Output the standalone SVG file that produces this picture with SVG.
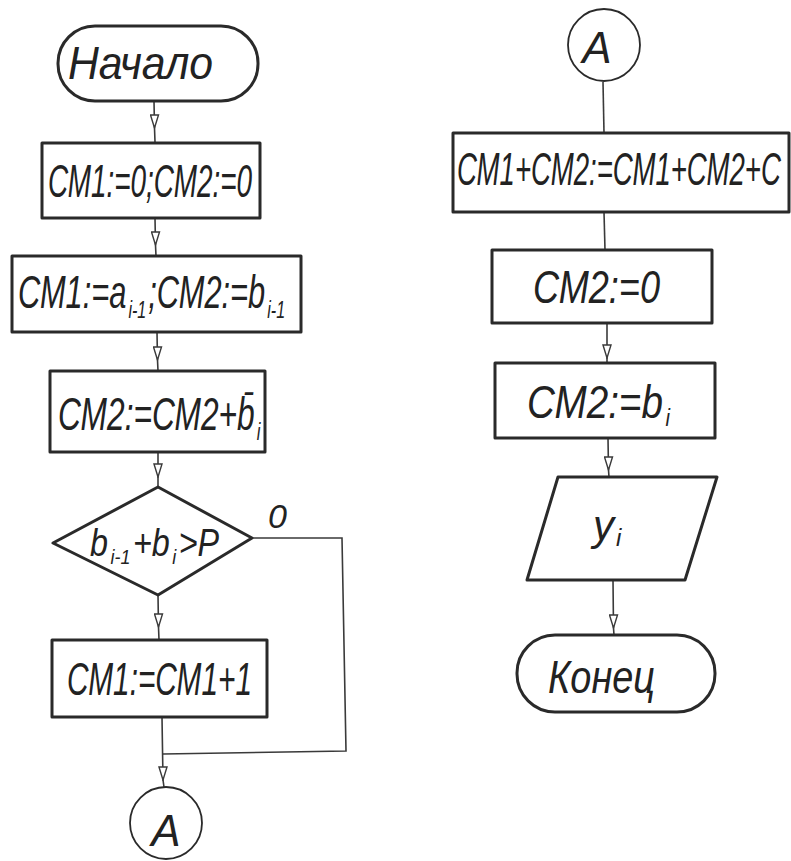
<svg xmlns="http://www.w3.org/2000/svg" width="791" height="861" viewBox="0 0 791 861">
<style>
.shape{fill:none;stroke:#2a2a2a;stroke-width:3;stroke-linejoin:round}
.thin{fill:none;stroke:#2a2a2a;stroke-width:1.8}
.conn{fill:none;stroke:#3a3a3a;stroke-width:1.6}
.t{font-family:"Liberation Sans","DejaVu Sans",sans-serif;font-style:italic;fill:#222;font-size:46px}
.s{font-size:24px}
</style>
<defs>
<marker id="dn" viewBox="0 0 10 16" refX="5" refY="15" markerWidth="10" markerHeight="16" markerUnits="userSpaceOnUse" orient="0">
<path d="M1,2 L5,15 L9,2 Z" fill="#fff" stroke="#3a3a3a" stroke-width="1.4"/>
</marker>
</defs>
<rect width="791" height="861" fill="#fff"/>
<g id="connectors">
<polyline class="conn" points="154,101 154.5,128 155,142" marker-mid="url(#dn)"/>
<polyline class="conn" points="155,218 155.5,245 156,256" marker-mid="url(#dn)"/>
<polyline class="conn" points="157,332 157.5,360 158,371" marker-mid="url(#dn)"/>
<polyline class="conn" points="158,452 158,477 158,487" marker-mid="url(#dn)"/>
<polyline class="conn" points="158,595 158.5,627 159,640" marker-mid="url(#dn)"/>
<polyline class="conn" points="252,538 342,538 346,751 163,754"/>
<polyline class="conn" points="162,717 163,780 164,787" marker-mid="url(#dn)"/>
<line class="conn" x1="603" y1="82" x2="604" y2="133"/>
<line class="conn" x1="604" y1="212" x2="605" y2="250"/>
<polyline class="conn" points="607,323 607,358 607,363" marker-mid="url(#dn)"/>
<polyline class="conn" points="608,438 608.5,470 609,477" marker-mid="url(#dn)"/>
<polyline class="conn" points="613,580 613.5,628 614,635" marker-mid="url(#dn)"/>
</g>
<g id="start">
<rect class="shape" x="58" y="26" width="200" height="75" rx="37" ry="37"/>
<text class="t" x="68" y="79" textLength="145" lengthAdjust="spacingAndGlyphs">Начало</text>
</g>
<g id="init">
<rect class="shape" x="42" y="143" width="218" height="75"/>
<text class="t" x="48" y="197" textLength="204" lengthAdjust="spacingAndGlyphs">СМ1:=0;СМ2:=0</text>
</g>
<g id="load">
<rect class="shape" x="12" y="256" width="289" height="76"/>
<text class="t" transform="translate(18 308) scale(0.67 1)" x="0" y="0">СМ1:=a<tspan class="s" dx="3" dy="10">i-1</tspan><tspan dx="3" dy="-10">;СМ2:=b</tspan><tspan class="s" dx="3" dy="10">i-1</tspan></text>
</g>
<g id="add">
<rect class="shape" x="50" y="371" width="215" height="81"/>
<text class="t" transform="translate(58 430) scale(0.69 1)" x="0" y="0">СМ2:=СМ2+b̄<tspan class="s" dx="3" dy="10">i</tspan></text>
</g>
<g id="decision">
<polygon class="shape" points="158,487 252,538 158,595 53,543"/>
<text class="t" transform="translate(90 556) scale(0.85 1)" x="0" y="0" style="font-size:38px">b<tspan class="s" style="font-size:21px" dx="3" dy="8">i-1</tspan><tspan dx="3" dy="-8">+b</tspan><tspan class="s" style="font-size:21px" dx="3" dy="8">i</tspan><tspan dx="3" dy="-8">&gt;P</tspan></text>
<text class="t" x="268" y="528" style="font-size:34px">0</text>
</g>
<g id="inc">
<rect class="shape" x="52" y="640" width="215" height="77"/>
<text class="t" x="67" y="695" textLength="185" lengthAdjust="spacingAndGlyphs">СМ1:=СМ1+1</text>
</g>
<g id="connA1">
<circle class="thin" cx="166" cy="823" r="36"/>
<text class="t" x="166" y="846" text-anchor="middle" style="font-size:44px">A</text>
</g>
<g id="connA2">
<circle class="thin" cx="604" cy="45" r="36"/>
<text class="t" x="597" y="63" text-anchor="middle" style="font-size:44px">A</text>
</g>
<g id="sum">
<rect class="shape" x="453" y="133" width="336" height="79"/>
<text class="t" transform="translate(457 185) scale(0.6 1)" x="0" y="0">СМ1+СМ2:=СМ1+СМ2+С</text>
</g>
<g id="reset">
<rect class="shape" x="492" y="250" width="220" height="73"/>
<text class="t" x="533" y="303" textLength="127" lengthAdjust="spacingAndGlyphs">СМ2:=0</text>
</g>
<g id="loadb">
<rect class="shape" x="495" y="363" width="220" height="75"/>
<text class="t" transform="translate(527 418) scale(0.84 1)" x="0" y="0">СМ2:=b<tspan class="s" dx="3" dy="8">i</tspan></text>
</g>
<g id="output">
<polygon class="shape" points="558,477 717,477 685,580 527,580"/>
<text class="t" x="593" y="540" style="font-size:42px">y<tspan class="s" dx="2" dy="6">i</tspan></text>
</g>
<g id="end">
<rect class="shape" x="517" y="635" width="198" height="77" rx="38" ry="38"/>
<text class="t" x="548" y="693" textLength="107" lengthAdjust="spacingAndGlyphs">Конец</text>
</g>
</svg>
